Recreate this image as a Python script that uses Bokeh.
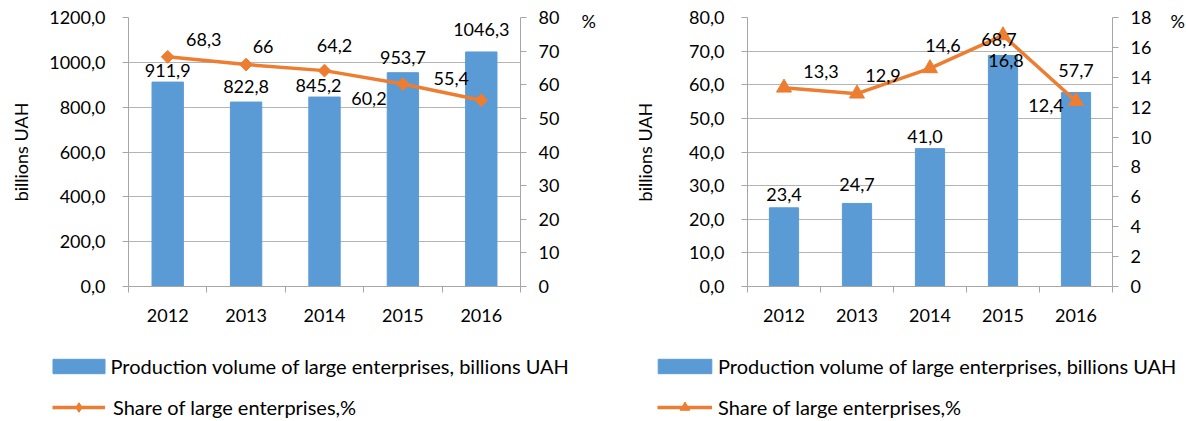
import numpy as np
from bokeh.plotting import figure
from bokeh.models import (Range1d, LinearAxis, FixedTicker, CustomJSTickFormatter,
                          ColumnDataSource, Legend, LegendItem)
from bokeh.layouts import row, column
from bokeh.embed import file_html
from bokeh.resources import INLINE
from bokeh.core.properties import value

# ---------------- data ----------------
years = ["2012", "2013", "2014", "2015", "2016"]

volume_left = [911.9, 822.8, 845.2, 953.7, 1046.3]   # billions UAH
share_left = [68.3, 66, 64.2, 60.2, 55.4]            # %

volume_right = [23.4, 24.7, 41.0, 68.7, 57.7]        # billions UAH
share_right = [13.3, 12.9, 14.6, 16.8, 12.4]         # %

left_vol_ticks = [0, 200, 400, 600, 800, 1000, 1200]
left_pct_ticks = [0, 10, 20, 30, 40, 50, 60, 70, 80]
right_vol_ticks = [0, 10, 20, 30, 40, 50, 60, 70, 80]
right_pct_ticks = [0, 2, 4, 6, 8, 10, 12, 14, 16, 18]

bar_name = "Production volume of large enterprises, billions UAH"
line_name = "Share of large enterprises,%"
y_title = "billions UAH"
pct_title = "%"

# ---------------- styling / placement ----------------
FONT = "Lato"
FS = "18px"
LFS = "20px"
BLUE = "#5B9BD5"
ORANGE = "#ED7D31"
GRID = "#b4b4b4"
AXIS = "#a6a6a6"
FRAME_H = 269
CHART_H = 340
LEGEND_H = 79

left_bar_off = [(0, -12), (0, -16), (-6, -12), (0, -15), (0, -22)]
left_line_off = [(36, -17), (17, -18), (10, -25), (-34, 14), (-30, -22)]
right_bar_off = [(0, -13), (0, -19), (-5, -12), (-4, -16), (0, -22)]
right_line_off = [(37, -16), (26, -18), (13, -23), (3, 25), (-30, 4)]


def fmt_bar(v):
    return f"{v:.1f}".replace(".", ",")


def fmt_line(v):
    return f"{v:g}".replace(".", ",")


def style_axis(ax):
    ax.axis_line_color = AXIS
    ax.major_tick_line_color = AXIS
    ax.minor_tick_line_color = AXIS
    ax.major_label_text_font = FONT
    ax.major_label_text_font_size = FS
    ax.major_label_text_color = "black"
    ax.axis_label_text_font = FONT
    ax.axis_label_text_font_size = FS
    ax.axis_label_text_font_style = "normal"
    ax.axis_label_text_color = "black"


def make_chart(vol, share, vol_ticks, pct_ticks, marker, msize, mangle,
               frame_w, border_l, border_r, bar_off, line_off,
               title_standoff, pct_standoff):
    n = len(years)
    xs = [i + 0.5 for i in range(n)]
    vmax = vol_ticks[-1]
    pmax = pct_ticks[-1]

    p = figure(frame_width=frame_w, frame_height=FRAME_H,
               min_border_left=border_l, min_border_right=border_r,
               min_border_top=17, min_border_bottom=CHART_H - 17 - FRAME_H,
               x_range=Range1d(0, n), y_range=Range1d(0, vmax),
               output_backend="svg", toolbar_location=None, tools="")
    p.extra_y_ranges = {"pct": Range1d(0, pmax)}
    p.outline_line_color = None

    # x axis: labels at category centres, tick marks at category boundaries
    xa = p.xaxis[0]
    xa.ticker = FixedTicker(ticks=xs, minor_ticks=list(range(n + 1)))
    xa.formatter = CustomJSTickFormatter(args=dict(labels=years),
                                         code="return labels[Math.round(tick - 0.5)];")
    style_axis(xa)
    xa.major_tick_in = 0
    xa.major_tick_out = 0
    xa.minor_tick_in = 0
    xa.minor_tick_out = 6
    xa.major_label_standoff = 16

    ya = p.yaxis[0]
    ya.ticker = FixedTicker(ticks=vol_ticks)
    ya.formatter = CustomJSTickFormatter(code="return tick.toFixed(1).replace('.', ',');")
    style_axis(ya)
    ya.major_tick_in = 0
    ya.major_tick_out = 6
    ya.minor_tick_line_color = None
    ya.major_label_standoff = 17

    # axis title "billions UAH" (invisible helper axis, centred a bit low)
    tc = vmax * 113 / FRAME_H
    ta = LinearAxis(ticker=FixedTicker(ticks=[]), bounds=(tc - vmax * 0.05, tc + vmax * 0.05),
                    axis_label=y_title)
    style_axis(ta)
    ta.axis_line_color = None
    ta.major_tick_out = 0
    ta.major_tick_in = 0
    ta.minor_tick_out = 0
    ta.minor_tick_in = 0
    ta.axis_label_standoff = title_standoff
    p.add_layout(ta, "left")

    ra = LinearAxis(y_range_name="pct", ticker=FixedTicker(ticks=pct_ticks))
    style_axis(ra)
    ra.major_tick_in = 0
    ra.major_tick_out = 6
    ra.minor_tick_line_color = None
    ra.major_label_standoff = 12
    p.add_layout(ra, "right")

    # "%" unit near the top of the right axis
    pa = LinearAxis(y_range_name="pct", ticker=FixedTicker(ticks=[pmax * 266 / FRAME_H]),
                    formatter=CustomJSTickFormatter(args=dict(t=pct_title), code="return t;"))
    style_axis(pa)
    pa.axis_line_color = None
    pa.major_tick_out = 0
    pa.major_tick_in = 0
    pa.minor_tick_line_color = None
    pa.major_label_standoff = pct_standoff
    p.add_layout(pa, "right")

    p.xgrid.visible = False
    p.ygrid.ticker = FixedTicker(ticks=vol_ticks)
    p.ygrid.grid_line_color = GRID
    p.ygrid.grid_line_width = 1

    src = ColumnDataSource(dict(
        x=xs, vol=vol, share=share,
        vol_txt=[fmt_bar(v) for v in vol],
        share_txt=[fmt_line(v) for v in share],
        bdx=[o[0] for o in bar_off], bdy=[o[1] for o in bar_off],
        ldx=[o[0] for o in line_off], ldy=[o[1] for o in line_off],
    ))

    p.vbar(x="x", top="vol", width=0.4, source=src,
           fill_color=BLUE, line_color=BLUE)
    p.line(x="x", y="share", source=src, y_range_name="pct",
           line_color=ORANGE, line_width=3.5)
    p.scatter(x="x", y="share", source=src, y_range_name="pct",
              marker=marker, size=msize, angle=mangle,
              fill_color=ORANGE, line_color=ORANGE)

    p.text(x="x", y="vol", text="vol_txt", source=src,
           x_offset="bdx", y_offset="bdy",
           text_align="center", text_baseline="middle",
           text_font=value(FONT), text_font_size=FS, text_color="black")
    p.text(x="x", y="share", text="share_txt", source=src, y_range_name="pct",
           x_offset="ldx", y_offset="ldy",
           text_align="center", text_baseline="middle",
           text_font=value(FONT), text_font_size=FS, text_color="black")
    return p


def make_legend(width, marker, msize, r1x, r1w, r2x, r2w, r2standoff):
    lf = figure(width=width, height=LEGEND_H, x_axis_type=None, y_axis_type=None,
                min_border=0, x_range=Range1d(0, 1), y_range=Range1d(0, 1),
                output_backend="svg", toolbar_location=None, tools="")
    lf.outline_line_color = None
    # legend proxies: placed outside the visible range so only the legend shows them
    bar_proxy = lf.vbar(x=[10], top=[10], bottom=[9], width=0.4,
                        fill_color=BLUE, line_color=BLUE)
    line_proxy = lf.line(x=[10, 11], y=[10, 10], line_color=ORANGE, line_width=3.5)
    mk_proxy = lf.scatter(x=[10], y=[10], marker=marker, size=msize,
                          fill_color=ORANGE, line_color=ORANGE)
    common = dict(padding=0, margin=0, border_line_color=None,
                  background_fill_alpha=0,
                  label_text_font=FONT, label_text_font_size=LFS,
                  label_text_color="black")
    leg1 = Legend(items=[LegendItem(label=bar_name, renderers=[bar_proxy])],
                  location=(r1x, 41), glyph_width=r1w, glyph_height=18,
                  label_height=18, label_standoff=0, **common)
    leg2 = Legend(items=[LegendItem(label=line_name, renderers=[line_proxy, mk_proxy])],
                  location=(r2x, 0), glyph_width=r2w, glyph_height=24,
                  label_height=24, label_standoff=r2standoff, **common)
    lf.add_layout(leg1)
    lf.add_layout(leg2)
    return lf


p1 = make_chart(volume_left, share_left, left_vol_ticks, left_pct_ticks,
                "square", 9, np.pi / 4,
                392, 128, 76, left_bar_off, left_line_off, 15, 19)
p2 = make_chart(volume_right, share_right, right_vol_ticks, right_pct_ticks,
                "triangle", 15, 0,
                365, 149, 74, right_bar_off, right_line_off, 31, 16)

l1 = make_legend(596, "diamond", 12, 45.5, 65, 52, 53, 8)
l2 = make_legend(588, "triangle", 15, 55, 67, 61, 55, 6)

layout = column(row(p1, p2), row(l1, l2))
open("out.html", "w").write(file_html(layout, INLINE))
